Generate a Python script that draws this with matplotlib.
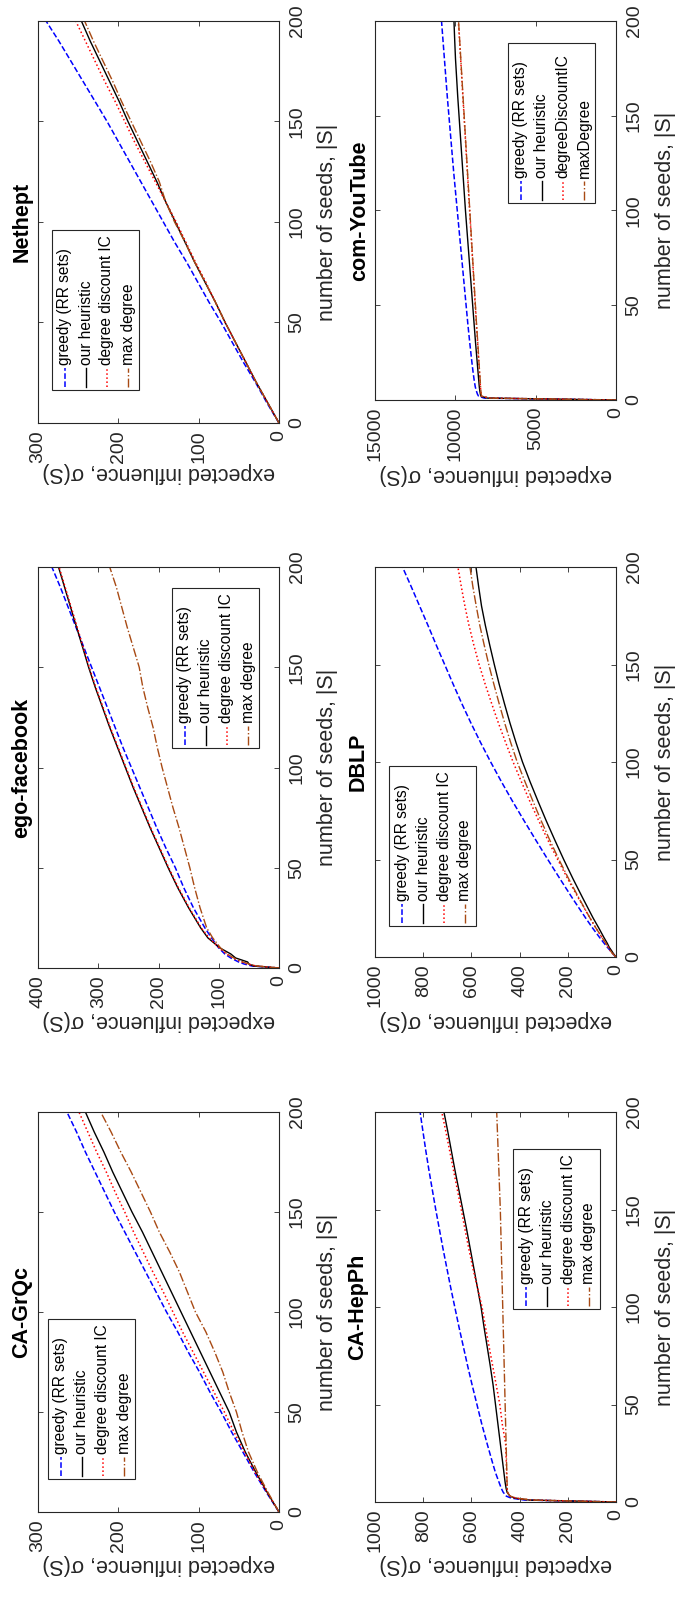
import matplotlib
matplotlib.use("Agg")
import matplotlib.pyplot as plt
from matplotlib.patches import Rectangle
from matplotlib.lines import Line2D

plt.rcParams["font.family"] = ["Liberation Sans", "DejaVu Sans"]

W, H = 676, 1602
AX_COLOR = "#262626"

# ---- data -----------------------------------------------------------------
SEEDS = [0, 10, 20, 30, 40, 50, 60, 70, 80, 90, 100,
         110, 120, 130, 140, 150, 160, 170, 180, 190, 200]
SEEDS_JUMP = [0, 1, 2, 3, 5, 7, 10, 15, 20, 30, 40, 50, 60, 70, 80, 90, 100,
              110, 120, 130, 140, 150, 160, 170, 180, 190, 200]

NETHEPT_GREEDY = [0, 15, 29, 44, 58, 72, 87, 101, 115, 130, 144, 158, 172, 186, 200, 214, 229, 244, 259, 274, 290]
NETHEPT_OURS = [0, 14, 28, 41, 54, 67, 79, 92, 105, 117, 129, 141, 152, 164, 176, 188, 199, 211, 223, 235, 246]
NETHEPT_DDIC = [0, 14, 28, 41, 54, 67, 79, 91, 104, 116, 128, 141, 154, 167, 180, 192, 204, 217, 229, 241, 253]
NETHEPT_MAXDEG = [0, 14, 28, 41, 54, 67, 79, 92, 105, 117, 130, 141, 149, 160, 172, 184, 196, 207, 219, 231, 242]

FB_GREEDY = [0, 45, 58, 67, 80, 90, 100, 112, 123, 142, 158, 172, 188, 203, 217, 231, 245,
             259, 272, 285, 298, 311, 324, 337, 350, 363, 377]
FB_OURS = [0, 42, 50, 52, 72, 80, 98, 118, 130, 150, 168, 184, 199, 214, 228, 242, 255,
           268, 281, 293, 305, 316, 326, 336, 346, 356, 366]
FB_DDIC = [0, 38, 52, 62, 76, 87, 99, 116, 129, 149, 167, 183, 198, 213, 227, 241, 254,
           267, 280, 292, 304, 315, 325, 335, 345, 355, 365]
FB_MAXDEG = [0, 36, 50, 60, 75, 86, 97, 110, 120, 131, 140, 148, 157, 166, 176, 185, 194,
             202, 209, 218, 226, 232, 242, 252, 261, 270, 281]

DBLP_GREEDY = [0, 8, 15, 22, 36, 49, 68, 98, 126, 180, 232, 283, 333, 382, 430, 476, 520,
               562, 602, 640, 676, 711, 746, 780, 815, 850, 886]
DBLP_OURS = [0, 6, 12, 17, 28, 36, 50, 72, 95, 137, 178, 217, 254, 290, 324, 357, 388,
             415, 440, 463, 485, 505, 524, 542, 558, 570, 581]
DBLP_DDIC = [0, 8, 16, 22, 32, 42, 58, 84, 108, 155, 200, 242, 283, 321, 358, 393, 427,
             458, 488, 516, 543, 568, 590, 610, 627, 642, 656]
DBLP_MAXDEG = [0, 8, 16, 22, 32, 42, 58, 84, 108, 153, 196, 237, 275, 311, 345, 378, 410,
               437, 462, 485, 507, 528, 547, 565, 580, 594, 606]

YT_GREEDY = [0, 8200, 8550, 8620, 8700, 8760, 8820, 8900, 8970, 9100, 9220, 9330, 9440, 9550,
             9660, 9770, 9880, 9990, 10100, 10200, 10300, 10400, 10500, 10590, 10680, 10770, 10860]
YT_OURS = [0, 8000, 8400, 8440, 8480, 8510, 8540, 8590, 8640, 8740, 8830, 8920, 9010, 9100,
           9190, 9280, 9370, 9450, 9530, 9610, 9690, 9770, 9850, 9920, 9990, 10040, 10085]
YT_DDIC = [0, 7800, 8380, 8400, 8420, 8440, 8460, 8500, 8540, 8610, 8690, 8760, 8830, 8900,
           8970, 9040, 9110, 9180, 9250, 9320, 9390, 9460, 9530, 9600, 9670, 9740, 9815]
YT_MAXDEG = [0, 7800, 8370, 8390, 8410, 8430, 8450, 8490, 8530, 8600, 8680, 8750, 8820, 8890,
             8960, 9030, 9100, 9170, 9240, 9310, 9380, 9450, 9520, 9590, 9660, 9730, 9800]

GRQC_GREEDY = [0, 16, 31, 45, 59, 72, 86, 99, 113, 126, 140, 153, 166, 179, 192, 205, 217, 229, 241, 252, 264]
GRQC_OURS = [0, 15, 29, 42, 53, 62, 74, 86, 98, 110, 122, 134, 146, 158, 170, 183, 195, 207, 218, 230, 241]
GRQC_DDIC = [0, 15, 30, 43, 56, 68, 81, 94, 107, 120, 132, 144, 157, 169, 181, 192, 204, 215, 227, 238, 249]
GRQC_MAXDEG = [0, 14, 27, 38, 46, 53, 62, 70, 80, 91, 104, 114, 124, 136, 149, 160, 172, 184, 197, 209, 222]

HEP_GREEDY = [0, 380, 435, 455, 468, 476, 485, 500, 512, 535, 557, 577, 597, 616, 634, 652, 669,
              686, 702, 718, 733, 748, 762, 776, 789, 801, 813]
HEP_OURS = [0, 360, 420, 440, 452, 456, 460, 465, 470, 480, 490, 500, 510, 522, 535, 548, 560,
            575, 590, 605, 620, 636, 652, 668, 683, 698, 714]
HEP_DDIC = [0, 350, 415, 440, 450, 452, 453, 454, 455, 458, 472, 482, 497, 512, 527, 542, 556,
            575, 594, 611, 627, 642, 658, 674, 690, 706, 723]
HEP_MAXDEG = [0, 350, 415, 440, 450, 451, 452, 453, 454, 456, 458, 460, 462, 464, 466, 468, 470,
              472, 474, 476, 478, 480, 483, 486, 489, 492, 495]

LABELS = ["greedy (RR sets)", "our heuristic", "degree discount IC", "max degree"]
LABELS_YT = ["greedy (RR sets)", "our heuristic", "degreeDiscountIC", "maxDegree"]
SEED_TICKS = [0, 50, 100, 150, 200]

STYLES = [
    dict(color="#0000ff", ls="--", lw=1.1),
    dict(color="black", ls="-", lw=1.0),
    dict(color="#ff0000", ls=":", lw=1.1),
    dict(color="#a84a14", ls="-.", lw=1.0),
]

# name, seeds, series, ymax, yticks, axes box px (l, t, r, b), legend top-left px,
# title x px, ylabel y px, legend labels
PANELS = [
    ("Nethept", SEEDS, [NETHEPT_GREEDY, NETHEPT_OURS, NETHEPT_DDIC, NETHEPT_MAXDEG],
     300, [0, 100, 200, 300], (38, 21, 279, 423), (52, 230), 22, 473, LABELS),
    ("com-YouTube", SEEDS_JUMP, [YT_GREEDY, YT_OURS, YT_DDIC, YT_MAXDEG],
     15000, [0, 5000, 10000, 15000], (375, 21, 616, 400), (508, 43), 360, 474, LABELS_YT),
    ("ego-facebook", SEEDS_JUMP, [FB_GREEDY, FB_OURS, FB_DDIC, FB_MAXDEG],
     400, [0, 100, 200, 300, 400], (38, 567, 279, 968), (172, 588), 22, 1021, LABELS),
    ("DBLP", SEEDS_JUMP, [DBLP_GREEDY, DBLP_OURS, DBLP_DDIC, DBLP_MAXDEG],
     1000, [0, 200, 400, 600, 800, 1000], (375, 567, 616, 957), (389, 766), 358, 1021, LABELS),
    ("CA-GrQc", SEEDS, [GRQC_GREEDY, GRQC_OURS, GRQC_DDIC, GRQC_MAXDEG],
     300, [0, 100, 200, 300], (38, 1112, 279, 1512), (48, 1319), 22, 1565, LABELS),
    ("CA-HepPh", SEEDS_JUMP, [HEP_GREEDY, HEP_OURS, HEP_DDIC, HEP_MAXDEG],
     1000, [0, 200, 400, 600, 800, 1000], (375, 1112, 616, 1502), (513, 1149), 358, 1565, LABELS),
]


def fx(px):
    return px / W


def fy(py):
    return 1 - py / H


def draw_legend(fig, x0, y0, labels, w=87, h=160):
    fig.add_artist(Rectangle((fx(x0), fy(y0 + h)), w / W, h / H, transform=fig.transFigure,
                             facecolor="white", edgecolor=AX_COLOR, lw=0.8, zorder=5))
    for i, (lab, st) in enumerate(zip(labels, STYLES)):
        xi = x0 + 13 + 21 * i
        fig.add_artist(Line2D([fx(xi), fx(xi)], [fy(y0 + h - 3), fy(y0 + h - 22)],
                              transform=fig.transFigure, zorder=6, **st))
        fig.text(fx(xi), fy(y0 + h - 25), lab, rotation=90, ha="center", va="bottom",
                 fontsize=11.2, color="black", zorder=6)


fig = plt.figure(figsize=(W / 100, H / 100), dpi=100)

for name, seeds, series, ymax, yticks, box, leg, tx, yl_y, labels in PANELS:
    l, t, r, b = box
    ax = fig.add_axes([fx(l), fy(b), (r - l) / W, (b - t) / H])
    for vals, st in zip(series, STYLES):
        ax.plot(vals, seeds, **st)
    ax.set_xlim(ymax, 0)
    ax.set_ylim(0, 200)
    ax.set_xticks(yticks)
    ax.set_xticklabels([str(v) for v in yticks], rotation=90)
    ax.set_yticks(SEED_TICKS)
    ax.set_yticklabels([str(v) for v in SEED_TICKS], rotation=90, va="center")
    ax.tick_params(direction="in", length=3.3, width=0.6, top=True, bottom=True,
                   left=True, right=True, labelleft=False, labelright=True,
                   labelsize=14, colors=AX_COLOR, labelcolor=AX_COLOR)
    ax.tick_params(axis="x", pad=5)
    ax.tick_params(axis="y", pad=7)
    for sp in ax.spines.values():
        sp.set_color(AX_COLOR)
        sp.set_linewidth(0.8)

    yc = (t + b) / 2
    fig.text(fx(tx), fy(yc), name, rotation=90, ha="center", va="center",
             fontsize=15.5, fontweight="bold")
    fig.text(fx(r + 49), fy(yc), "number of seeds, |S|", rotation=90, ha="center",
             va="center", fontsize=15.5, color=AX_COLOR)
    fig.text(fx((l + r) / 2), fy(yl_y), "expected influence, σ(S)", rotation=180,
             ha="center", va="center", fontsize=15.5, color=AX_COLOR)
    draw_legend(fig, leg[0], leg[1], labels)

fig.savefig("out.png", dpi=100)
